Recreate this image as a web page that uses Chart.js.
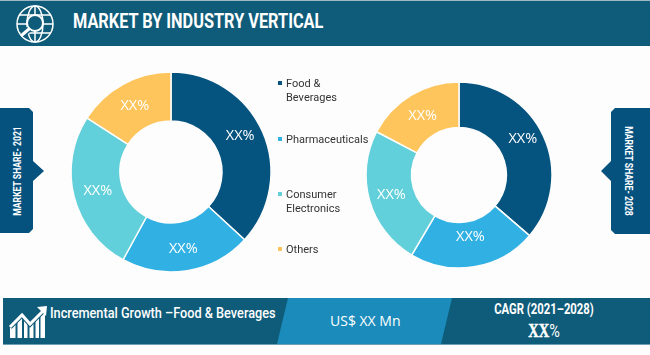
<!DOCTYPE html>
<html>
<head>
<meta charset="utf-8">
<script src="https://cdn.jsdelivr.net/npm/chart.js@4"></script>
<style>
  html, body { margin: 0; padding: 0; }
  body { width: 650px; height: 355px; overflow: hidden; background: #fdfdfd; position: relative; font-family: Roboto, sans-serif; color: #fff; }
  .abs { position: absolute; white-space: nowrap; }
  .chartBox { position: absolute; }
  .squeezed { transform-origin: left center; }
  .tabText { font: bold 11.5px Roboto, sans-serif; text-align: center; width: 140px; }
  .legendText { position: absolute; left: 286px; color: #333; font: 11px/13.5px Roboto, sans-serif; white-space: pre; }
  .legendMark { position: absolute; left: 278px; width: 4px; height: 4px; }
</style>
</head>
<body>
<svg class="abs" style="left:0;top:0" width="650" height="355" viewBox="0 0 650 355">
  <!-- title banner -->
  <rect x="0" y="0" width="650" height="1" fill="#9fb9c4"/>
  <rect x="0" y="1" width="650" height="45" fill="#0f5c7a"/>
  <!-- side tabs -->
  <polygon points="0,108 29,108 33,112 33,161 44,171 33,181 33,229 29,233 0,233" fill="#06527f"/>
  <polygon points="650,108 615,108 611,112 611,161 601,171 611,181 611,230 615,234 650,234" fill="#06527f"/>
  <!-- bottom strip -->
  <rect x="3" y="298" width="647" height="46" fill="#0f5c7a"/>
  <polygon points="288,298 452,298 441,344 277,344" fill="#1a8bba"/>
  <rect x="3" y="344" width="647" height="1" fill="#6e9fb3"/>
  <!-- globe icon -->
  <g fill="none" stroke="#fff" stroke-width="1.5">
    <circle cx="35" cy="24" r="18"/>
    <ellipse cx="35" cy="24" rx="8" ry="18"/>
    <path d="M35 6V42M19 15H51M17 24H53M19 33H51"/>
  </g>
  <circle cx="35" cy="23" r="8" fill="#0f5c7a" stroke="#fff" stroke-width="2"/>
  <path d="M29 29L22 35" stroke="#0f5c7a" stroke-width="6"/>
  <path d="M29 29L22 35" stroke="#fff" stroke-width="3" stroke-linecap="round"/>
  <!-- growth icon -->
  <g fill="#fff">
    <polygon points="10,338 10,328 15.5,323 15.5,338"/>
    <polygon points="17.5,338 17.5,321 22,317 22,338"/>
    <polygon points="24,338 24,319 27.5,322 27.5,338"/>
    <polygon points="29.5,338 29.5,324 33.5,321 33.5,338"/>
    <polygon points="35.5,338 35.5,319 39,316 39,338"/>
    <polygon points="40.5,338 40.5,314 45,310 45,338"/>
  </g>
  <path d="M10 327L22 315L30 324L45 309" fill="none" stroke="#0f5c7a" stroke-width="5"/>
  <path d="M10 327L22 315L30 324L44 310" fill="none" stroke="#fff" stroke-width="3"/>
  <polygon points="37,307 47,306 46,316" fill="#fff"/>
</svg>

<div class="abs squeezed" style="left:73px;top:9px;font-weight:bold;font-size:20px;line-height:24px;transform:scaleX(0.815);">MARKET BY INDUSTRY VERTICAL</div>
<div class="abs squeezed" style="left:50px;top:304px;font-size:15.5px;line-height:19px;font-weight:500;transform:scaleX(0.82);">Incremental Growth –Food &amp; Beverages</div>
<div class="abs" style="left:330px;top:312px;font:14px/18px 'Open Sans',sans-serif;">US$ XX Mn</div>
<div class="abs" style="left:444px;width:200px;text-align:center;top:301px;font-size:14.5px;line-height:17px;font-weight:bold;transform:scaleX(0.78);">CAGR (2021–2028)</div>
<div class="abs" style="left:444px;width:200px;text-align:center;top:320px;font-size:19px;line-height:22px;transform:scaleX(0.76);"><b style="font-family:'Liberation Serif',serif;-webkit-text-stroke:0.5px #fff;">XX</b>%</div>

<div class="abs tabText" style="left:-53px;top:164px;transform:rotate(-90deg) scaleX(0.75);">MARKET SHARE- 2021</div>
<div class="abs tabText" style="left:559px;top:164px;transform:rotate(90deg) scaleX(0.75);">MARKET SHARE- 2028</div>

<div class="chartBox" style="left:66px;top:67px;width:210px;height:210px;"><canvas id="donut2021"></canvas></div>
<div class="chartBox" style="left:359px;top:75px;width:200px;height:200px;"><canvas id="donut2028"></canvas></div>
<div id="legend"></div>

<script>
const categories = ['Food &\nBeverages', 'Pharmaceuticals', 'Consumer\nElectronics', 'Others'];
const share2021 = [36.8, 21.1, 26.1, 15.9];
const share2028 = [36.3, 22.2, 24.2, 17.3];
const sliceLabels = ['XX%', 'XX%', 'XX%', 'XX%'];
const sliceColors = ['#05537f', '#31b0e3', '#62d0da', '#fec55c'];

// XX% text on each slice, nudged up or down from the middle of its arc
const sliceLabelPlugin = {
  id: 'sliceLabels',
  afterDatasetsDraw(chart, args, opts) {
    const ctx = chart.ctx;
    ctx.save();
    ctx.fillStyle = '#fff';
    ctx.font = '14.5px "Open Sans", sans-serif';
    ctx.textAlign = 'center';
    ctx.textBaseline = 'middle';
    chart.getDatasetMeta(0).data.forEach((arc, i) => {
      const p = arc.getCenterPoint();
      ctx.fillText(sliceLabels[i], p.x, p.y + opts.shift[i]);
    });
    ctx.restore();
  }
};

function renderDonut(id, values, radius, shift) {
  const ctx = document.getElementById(id).getContext('2d');
  return new Chart(ctx, {
    type: 'doughnut',
    data: {
      labels: categories,
      datasets: [{
        data: values,
        backgroundColor: sliceColors,
        borderColor: '#fdfdfd',
        borderWidth: 1.5
      }]
    },
    options: {
      responsive: true,
      maintainAspectRatio: false,
      animation: false,
      radius: radius,
      cutout: '51%',
      layout: { padding: 0 },
      plugins: {
        legend: { display: false },
        tooltip: { enabled: false },
        sliceLabels: { shift: shift }
      }
    },
    plugins: [sliceLabelPlugin]
  });
}

renderDonut('donut2021', share2021, 100, [-6, 2, 0, 0]);
renderDonut('donut2028', share2028, 93, [-7, -7, 1, 1]);

// legend sits between the two charts
const legendTop = [77, 133, 188, 243];
const legend = document.getElementById('legend');
categories.forEach((name, i) => {
  const mark = document.createElement('div');
  mark.className = 'legendMark';
  mark.style.top = (legendTop[i] + 4) + 'px';
  mark.style.background = sliceColors[i];
  legend.appendChild(mark);
  const text = document.createElement('div');
  text.className = 'legendText';
  text.style.top = legendTop[i] + 'px';
  text.textContent = name;
  legend.appendChild(text);
});
</script>
</body>
</html>
